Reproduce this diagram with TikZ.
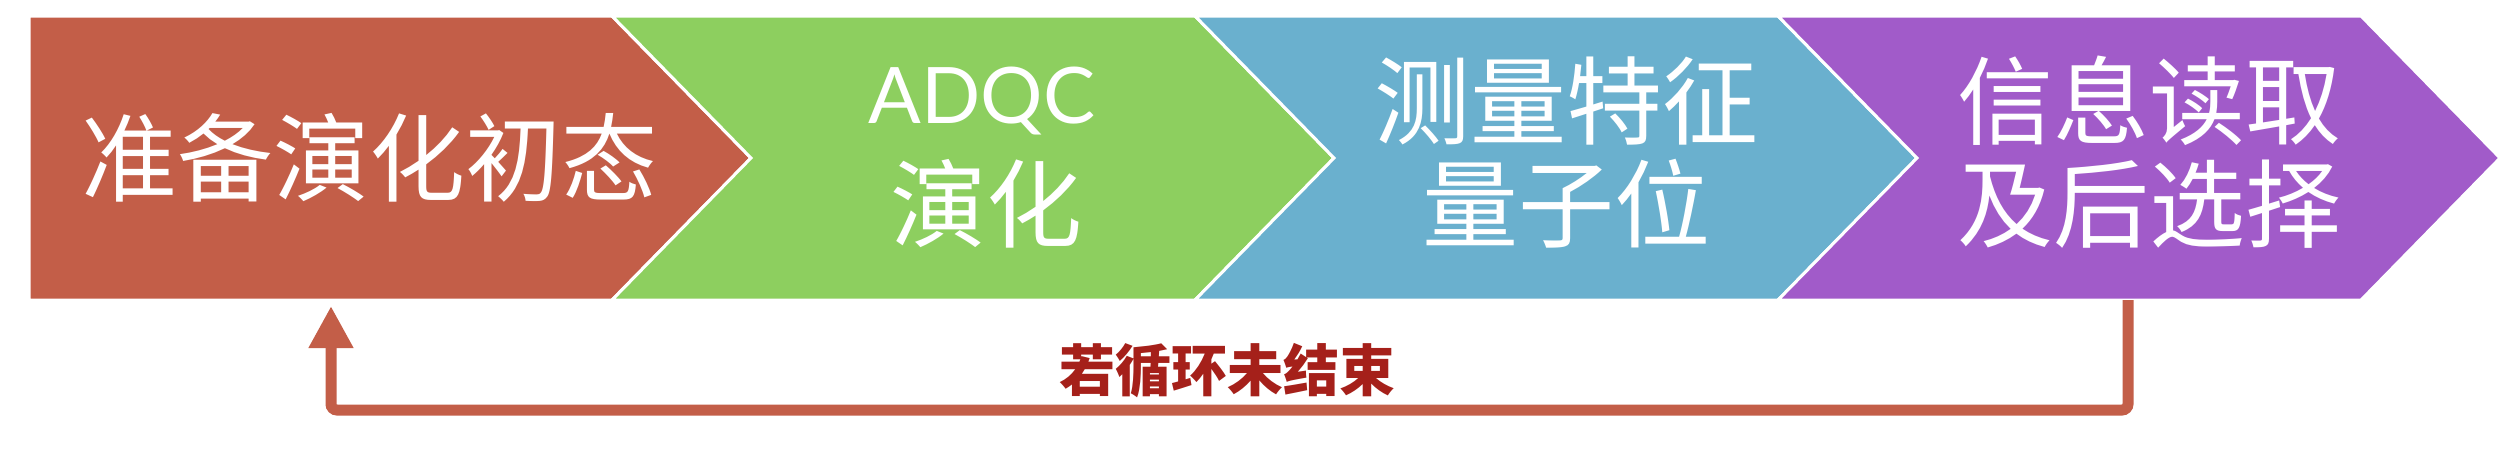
\documentclass[tikz,border=0pt]{standalone}
\usepackage{fontspec}
\usetikzlibrary{arrows.meta}
\newfontfamily\cjk{Noto Sans CJK SC}
\newfontfamily\latinsans{Lato}
\definecolor{cred}{RGB}{195,94,72}
\definecolor{cgreen}{RGB}{141,207,95}
\definecolor{cblue}{RGB}{106,176,206}
\definecolor{cpurple}{RGB}{161,91,201}
\definecolor{labred}{RGB}{165,32,26}
\begin{document}
\begin{tikzpicture}[x=0.5pt,y=-0.5pt,
  chev/.style={draw=white, line width=1.5pt, line join=miter},
  lbl/.style={text=white, font=\cjk\fontsize{48}{51.5}\selectfont, align=center, inner sep=0pt},
  loopline/.style={draw=cred, line width=5.5pt, -{Triangle[length=21pt,width=21pt,fill=cred,sharp]}},
  looplabel/.style={text=labred, font=\cjk\bfseries\fontsize{28}{30}\selectfont, inner sep=0pt}]
\useasboundingbox (0,0) rectangle (2505,457);
% chevrons
\fill[cred,chev] (29,16) -- (612,16) -- (751,158) -- (612,300) -- (29,300) -- cycle;
\fill[cgreen,chev] (612,16) -- (1195,16) -- (1334,158) -- (1195,300) -- (612,300) -- (751,158) -- cycle;
\fill[cblue,chev] (1195,16) -- (1778,16) -- (1917,158) -- (1778,300) -- (1195,300) -- (1334,158) -- cycle;
\fill[cpurple,chev] (1778,16) -- (2361,16) -- (2500,158) -- (2361,300) -- (1778,300) -- (1917,158) -- cycle;
% texts
\node[lbl] (t1) at (369,158) {准备演化初态};
\node[lbl, font=\latinsans\fontsize{39}{40}\selectfont] (t2a) at (982,101) {ADQC};
\node[lbl] (t2b) at (986,204) {演化};
\node[lbl] (t3) at (1566,152) {测量特征\\量子位};
\node[lbl] (t4) at (2149,152) {信息读取\\及后选择};
% loop connector
\coordinate (from) at (2128,300);
\coordinate (to) at (331,306);
\coordinate (base) at (0,410);
\draw[loopline] (from) [rounded corners=3pt] -- (from |- base) -| (to);
\node[looplabel] (lab) at (1227,371) {若循环未结束};
\end{tikzpicture}
\end{document}
